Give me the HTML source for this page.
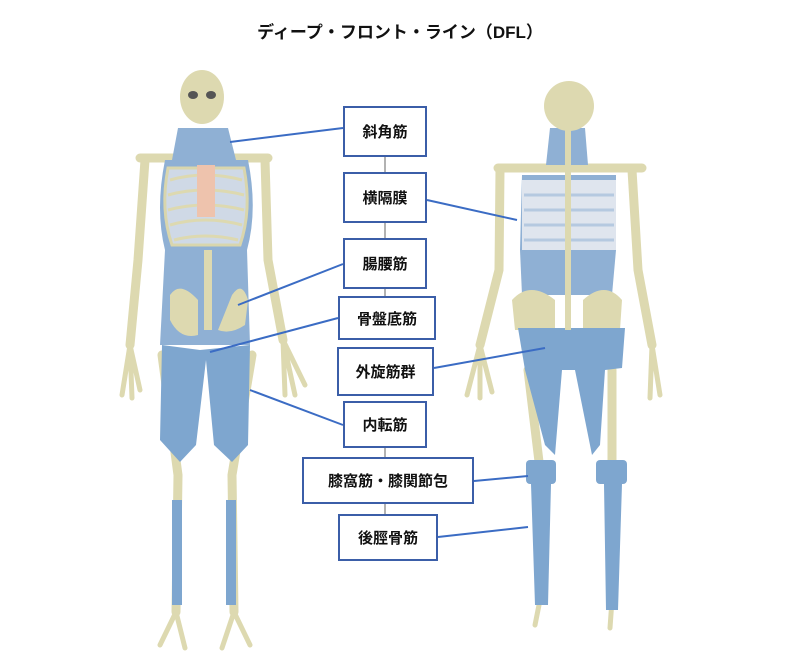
<!DOCTYPE html>
<html><head><meta charset="utf-8"><style>
body{margin:0;background:#fff;width:800px;height:670px;overflow:hidden;font-family:"Liberation Sans","Noto Sans CJK JP",sans-serif;}
.t{position:absolute;left:0;top:18px;width:800px;text-align:center;font-size:17px;font-weight:bold;color:#111;}
.b{position:absolute;box-sizing:border-box;border:2px solid #3b5ea8;background:#fff;display:flex;align-items:center;justify-content:center;font-size:15px;font-weight:bold;color:#111;}
svg{position:absolute;left:0;top:0}
</style></head><body>
<svg width="800" height="670">
<g stroke-linecap="round" fill="none">
<!-- FRONT figure -->
<g stroke="#ddd9b0" stroke-width="9">
<path d="M145 160 L138 260 L130 345"/><path d="M265 160 L268 260 L283 340"/>
<path d="M162 355 L178 475 L176 612"/><path d="M252 355 L232 475 L234 612"/>
<path d="M140 158 L268 158"/>
</g>
<g stroke="#ddd9b0" stroke-width="5">
<path d="M130 345 L122 395 M130 345 L132 398 M130 345 L140 390"/>
<path d="M283 340 L285 395 M283 340 L295 395 M283 340 L305 385"/>
<path d="M176 612 L160 645 M176 612 L185 648"/><path d="M234 612 L222 648 M234 612 L250 645"/>
</g>
</g>
<path d="M165 160 Q155 210 165 250 L160 345 L250 345 L247 250 Q258 210 248 160 Z" fill="#8fb0d4"/>
<path d="M162 345 L200 350 L250 345 L248 445 L232 462 L214 445 L206 360 L196 445 L180 462 L160 440 Z" fill="#7ea6cf"/>
<path d="M168 168 Q160 210 172 245 L240 245 Q252 210 244 168 Z" fill="#cfd9e6" stroke="#d9d6ad" stroke-width="3"/>
<g stroke="#ddd9b0" stroke-width="3" fill="none">
<path d="M170 180 Q205 170 242 180 M168 195 Q205 185 244 195 M168 210 Q205 200 244 210 M170 225 Q205 215 242 225 M174 240 Q205 232 238 240"/>
</g>
<rect x="197" y="165" width="18" height="52" fill="#eec3ad"/>
<path d="M178 128 L228 128 L236 160 L172 160 Z" fill="#8fb0d4"/>
<ellipse cx="202" cy="97" rx="22" ry="27" fill="#ddd9b0"/>
<ellipse cx="193" cy="95" rx="5" ry="4" fill="#555"/><ellipse cx="211" cy="95" rx="5" ry="4" fill="#555"/>
<rect x="204" y="250" width="8" height="80" fill="#ddd9b0"/>
<path d="M170 295 Q180 280 198 300 L198 335 Q180 340 170 320 Z M232 295 Q242 280 248 300 L245 325 Q230 335 218 330 Z" fill="#ddd9b0"/>
<rect x="172" y="500" width="10" height="105" fill="#7ea6cf"/><rect x="226" y="500" width="10" height="105" fill="#7ea6cf"/>
<!-- BACK figure -->
<g stroke="#ddd9b0" stroke-linecap="round" fill="none">
<g stroke-width="9"><path d="M500 170 L499 270 L480 345"/><path d="M632 170 L638 270 L652 345"/><path d="M498 168 L642 168"/>
<path d="M528 370 L540 470 L540 600"/><path d="M612 370 L612 470 L612 600"/></g>
<g stroke-width="5"><path d="M480 345 L467 395 M480 345 L480 398 M480 345 L492 392"/><path d="M652 345 L650 398 M652 345 L660 395"/>
<path d="M540 600 L535 625"/><path d="M612 600 L610 628"/></g>
</g>
<path d="M550 128 L585 128 L588 165 L546 165 Z" fill="#8fb0d4"/>
<path d="M522 175 L616 175 L616 250 L612 295 L522 295 L520 250 Z" fill="#8fb0d4"/>
<path d="M522 180 L616 180 L616 250 L522 250 Z" fill="#dfe5ee"/>
<g stroke="#b5c9e0" stroke-width="3"><path d="M524 195 L614 195 M524 210 L614 210 M524 225 L614 225 M524 240 L614 240"/></g>
<path d="M512 300 Q530 280 555 300 L555 330 L515 330 Z M583 300 Q605 280 622 300 L620 330 L583 330 Z" fill="#ddd9b0"/>
<path d="M518 328 L625 328 L622 368 L605 370 L600 445 L592 455 L575 370 L562 370 L555 455 L545 445 L525 370 Z" fill="#7ea6cf"/>
<rect x="526" y="460" width="30" height="24" rx="4" fill="#7ea6cf"/><rect x="596" y="460" width="31" height="24" rx="4" fill="#7ea6cf"/>
<path d="M531 484 L551 484 L548 605 L535 605 Z M604 484 L622 484 L618 610 L606 610 Z" fill="#7ea6cf"/>
<rect x="565" y="130" width="6" height="200" fill="#ddd9b0"/>
<ellipse cx="569" cy="106" rx="25" ry="25" fill="#ddd9b0"/>
<!-- connectors -->
<g stroke="#999" stroke-width="1.5"><path d="M385 157 V172 M385 223 V238 M385 289 V296 M385 448 V457 M385 504 V514"/></g>
<g stroke="#3b6cc4" stroke-width="2">
<path d="M343 128 L230 142"/><path d="M427 200 L517 220"/><path d="M343 264 L238 305"/>
<path d="M338 318 L210 352"/><path d="M434 368 L545 348"/><path d="M343 425 L250 390"/>
<path d="M474 481 L528 476"/><path d="M438 537 L528 527"/>
</g>
</svg>
<div class="t">ディープ・フロント・ライン（DFL）</div>
<div class="b" style="left:343px;top:106px;width:84px;height:51px">斜角筋</div>
<div class="b" style="left:343px;top:172px;width:84px;height:51px">横隔膜</div>
<div class="b" style="left:343px;top:238px;width:84px;height:51px">腸腰筋</div>
<div class="b" style="left:338px;top:296px;width:98px;height:44px">骨盤底筋</div>
<div class="b" style="left:337px;top:347px;width:97px;height:49px">外旋筋群</div>
<div class="b" style="left:343px;top:401px;width:84px;height:47px">内転筋</div>
<div class="b" style="left:302px;top:457px;width:172px;height:47px">膝窩筋・膝関節包</div>
<div class="b" style="left:338px;top:514px;width:100px;height:47px">後脛骨筋</div>
</body></html>
